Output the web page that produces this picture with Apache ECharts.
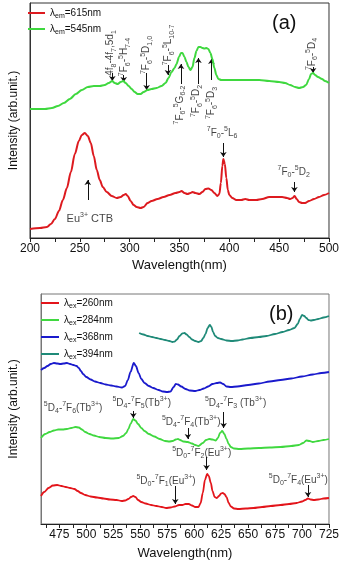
<!DOCTYPE html>
<html>
<head>
<meta charset="utf-8">
<script src="https://cdn.jsdelivr.net/npm/echarts@6/dist/echarts.min.js"></script>
<style>
html, body { margin: 0; padding: 0; background: #fff; }
#chart { width: 342px; height: 562px; }
</style>
</head>
<body>
<div id="chart"></div>
<script>
// ---- panel (a): excitation spectra ----
const aRedNm = [200, 210, 217, 221, 225, 229, 233, 237, 241, 245, 249, 252, 255, 258, 261, 264, 267, 270, 273, 277, 282, 287, 291, 294, 296, 298, 301, 304, 307, 311, 314, 318, 322, 328, 334, 340, 346, 350, 352, 355, 358, 361, 363, 366, 370, 373, 376, 379, 382, 385, 388, 390, 391.5, 393, 394, 395.5, 397, 398.5, 400, 403, 407, 412, 416, 420, 427, 433, 440, 447, 453, 458, 461, 463.5, 465.5, 467.5, 470, 473, 476, 480, 485, 490, 495, 500];
const aRedI = [9, 10, 11, 14, 19, 27, 38, 50, 66, 84, 97, 103, 105, 102, 95, 82, 68, 58, 51, 46, 42, 40, 41, 43, 44, 42, 37, 33, 31, 30, 31, 35, 37, 39, 41, 43, 45, 46, 47, 45, 44, 45, 46, 45, 44, 46, 49, 49.5, 48, 45, 42, 44, 55, 72, 79, 74, 60, 48, 43, 40, 38, 38, 39, 38, 38, 39, 41, 41, 41, 40, 39, 40, 42, 39, 36, 35, 35, 37, 39, 41, 43, 45];

const aGreenNm = [200, 210, 215, 222, 228, 234, 240, 246, 252, 258, 264, 270, 275, 279, 282.5, 285, 288, 291, 293.5, 296, 299, 302, 305, 308, 311, 314, 318, 322, 327, 332, 336, 339, 342, 345, 347, 349.5, 351.5, 353, 355, 357, 359, 361, 363, 365, 367, 369, 371, 373, 375, 377, 379, 381, 383, 385, 387, 389, 392, 400, 410, 420, 430, 440, 450, 456, 461, 466, 470, 474, 477, 480, 482, 484, 486, 489, 493, 496, 500];
const aGreenI = [129, 129, 129, 130, 132, 135, 139, 144, 148, 151, 152, 152, 153, 155, 157, 155, 154, 156, 157, 155, 152, 149, 146, 144, 144, 146, 148, 149, 150, 152, 155, 160, 166, 170, 174, 181, 185, 185, 181, 176, 171, 168, 171, 180, 187, 191, 191, 190, 189.5, 190, 189, 185, 179, 170, 163, 159, 158, 158, 158, 158, 158, 157, 156, 155, 153, 151, 150, 151, 153, 159, 164, 165, 163, 161, 159, 157, 155];

// ---- panel (b): emission spectra ----
const bRedNm = [458, 461, 465, 469, 473, 477, 481, 485, 489, 492, 495, 499, 504, 510, 516, 522, 528, 533, 536, 539, 541.5, 543.5, 545.5, 548, 551, 555, 560, 565, 570, 574, 578, 582, 586, 589, 592, 595, 598, 601, 604, 606, 608, 610, 612, 613.5, 615.5, 617, 619, 621, 623, 625, 626.5, 628, 630, 632, 634, 637, 641, 648, 655, 663, 671, 680, 688, 695, 700, 703, 705.5, 708, 711, 715, 720, 725];
const bRedI = [28, 32, 36, 38.5, 39, 38, 37, 36, 35, 33, 31, 29, 27.5, 26.5, 25.5, 24.5, 24, 23, 23.5, 25, 27, 28, 27, 24, 22, 20.5, 19, 18, 17, 16, 16.5, 17.5, 19, 19, 20, 20, 18.5, 17, 17, 21, 31, 44, 50, 48, 41, 33, 27, 26, 28, 30.5, 31, 30, 27, 21, 17.5, 15.5, 15, 15.5, 16, 17, 18, 19, 20, 21, 22.5, 24, 25.5, 24.5, 24, 24.5, 25.5, 26];

const bGreenNm = [458, 462, 466, 470, 474, 478, 482, 486, 490, 493, 496, 499, 503, 507, 512, 518, 524, 530, 534, 537, 539, 541, 543.5, 545.5, 548, 551, 554, 558, 563, 568, 573, 577, 580, 583, 585, 587, 590, 594, 598, 601, 604, 608, 611, 614, 617, 620, 622, 624, 626, 628, 630, 632, 634, 637, 642, 650, 660, 670, 680, 690, 697, 701, 704, 707, 710, 715, 720, 725];
const bGreenI = [86, 90, 92, 93.5, 94.5, 94.5, 95, 96, 97, 96.5, 94.5, 92, 90, 88.5, 87, 86, 85.5, 86, 88, 91, 95, 100, 105, 103.5, 100, 96, 93, 90, 87.5, 85, 83, 82.5, 83, 84.5, 85, 84, 82.5, 82, 80.5, 79, 78, 81, 84, 85, 84.5, 83.5, 86, 91, 93, 90, 85, 80, 77, 75.5, 75, 75.5, 76, 76.5, 77, 78, 79, 81, 83.5, 83, 82, 83, 84, 85];

const bBlueNm = [458, 461, 464, 467, 470, 473, 476, 479, 482, 485, 488, 491, 493, 495, 497, 500, 504, 508, 513, 518, 523, 528, 533, 536, 538.5, 541, 544, 546, 548.5, 551, 554, 558, 562, 567, 571, 575, 578, 581, 583, 585, 588, 592, 596, 601, 605, 609, 613, 617, 621, 624, 627, 630, 634, 640, 650, 660, 670, 680, 690, 700, 710, 718, 725];
const bBlueI = [154, 156, 158, 160, 161, 160.5, 160, 160.5, 161, 160, 159, 158, 156, 153, 150, 147, 144.5, 142.5, 141, 139.5, 138.5, 137.5, 136.5, 138, 144, 152, 161, 158, 151, 145, 141, 138, 136, 134, 132.5, 132, 132.5, 137, 140, 139.5, 137.5, 135, 133.5, 133, 134, 135.5, 137.5, 140, 141, 141.5, 140, 137.5, 137, 137.5, 139, 140.5, 142.5, 144, 145.5, 147.5, 149.5, 151, 152];

const bTealNm = [549, 553, 557, 561, 565, 569, 573, 577, 580, 582, 584, 586.5, 589, 591, 593, 595.5, 598, 601, 604, 606.5, 608.5, 610.5, 612.5, 614.5, 616, 617.5, 619.5, 622, 625, 630, 635, 640, 645, 652, 660, 667, 675, 682, 688, 693, 696, 698, 700, 702, 704, 706, 708, 711, 715, 720, 725];
const bTealI = [191, 189.5, 188, 187, 186, 185, 184, 183, 182, 182.5, 184.5, 188, 190.5, 191, 189.5, 187, 184.5, 183, 182, 183, 186, 190, 196, 199, 197, 192, 188, 186, 185, 183.5, 183, 183.5, 184.5, 186, 187, 188, 190, 192, 194, 196, 200, 205, 209, 208, 206, 204, 203.5, 204, 205, 206.5, 208];

// tick labels
const aTicks = [200, 250, 300, 350, 400, 450, 500];
const bTicks = [475, 500, 525, 550, 575, 600, 625, 650, 675, 700, 725];
const bMinorTicks = [462.5, 475, 487.5, 500, 512.5, 525, 537.5, 550, 562.5, 575, 587.5, 600, 612.5, 625, 637.5, 650, 662.5, 675, 687.5, 700, 712.5, 725];

// annotations: ^{..} superscript, _{..} subscript
const aNoteNm = [280.7, 294.4, 317, 338.7, 350.5, 367, 382, 483, 392.8, 464.6, 260];
const aNoteI = [185, 181, 183, 193, 133, 137, 135, 184, 105, 66, 19];
const aNoteText = ['4f_{8}-4f_{7},5d_{1}', '^{7}F_{6}-^{5}H_{7-4}', '^{7}F_{6}-^{5}D_{1,0}', '^{7}F_{6}-^{5}L_{10-7}', '^{7}F_{6}-^{5}G_{6-2}', '^{7}F_{6}-^{5}D_{2}', '^{7}F_{6}-^{5}D_{3}', '^{7}F_{6}-^{5}D_{4}', '^{7}F_{0}-^{5}L_{6}', '^{7}F_{0}-^{5}D_{2}', 'Eu^{3+} CTB'];
const aNoteRot = [90, 90, 90, 90, 90, 90, 90, 90, 0, 0, 0];
const aArrowNm = [282.6, 294, 317, 338.4, 351.5, 369, 382, 484, 394, 465.3, 258];
const aArrowFrom = [165, 163, 165, 173, 154, 154, 158, 171, 95, 56, 38];
const aArrowTo = [157, 156, 148, 163, 174, 180, 179, 165, 81, 46, 58];

const bNoteNm = [487.8, 551.4, 638.4, 597.3, 607, 573.9, 696.6];
const bNoteI = [116, 121, 121, 102, 71, 43, 44];
const bNoteText = ['^{5}D_{4}-^{7}F_{6}(Tb^{3+})', '^{5}D_{4}-^{7}F_{5}(Tb^{3+})', '^{5}D_{4}-^{7}F_{3} (Tb^{3+})', '^{5}D_{4}-^{7}F_{4}(Tb^{3+})', '^{5}D_{0}-^{7}F_{2}(Eu^{3+})', '^{5}D_{0}-^{7}F_{1}(Eu^{3+})', '^{5}D_{0}-^{7}F_{4}(Eu^{3+})'];
const bArrowNm = [543.6, 627.3, 594.2, 611.5, 582.5, 705.5];
const bArrowFrom = [113, 112, 96, 67, 38, 39];
const bArrowTo = [106, 96, 85, 54, 20, 27];

const FONT = 'Liberation Sans, Arial, sans-serif';

function fmt(s) {
  return s.replace(/\^\{([^}]*)\}/g, '{p|$1}').replace(/_\{([^}]*)\}/g, '{b|$1}');
}
function zip(xs, ys) {
  return xs.map((x, i) => [x, ys[i]]);
}
function richFor(size, small, lh) {
  return {
    p: { fontSize: small, lineHeight: Math.round(lh * 0.6), verticalAlign: 'top', fontFamily: FONT, color: '#111' },
    b: { fontSize: small, lineHeight: Math.round(lh * 0.6), verticalAlign: 'bottom', fontFamily: FONT, color: '#111' }
  };
}

function curve(name, xs, ys, color, idx, w) {
  return {
    name: name, type: 'line', xAxisIndex: idx, yAxisIndex: idx,
    data: zip(xs, ys), showSymbol: false, smooth: 0.3, smoothMonotone: 'x',
    itemStyle: { color: color }, lineStyle: { color: color, width: w },
    silent: true
  };
}

function notes(nm, inten, text, rot, idx, size, small) {
  return {
    type: 'scatter', xAxisIndex: idx, yAxisIndex: idx, silent: true,
    symbolSize: 1, itemStyle: { color: 'transparent' },
    data: nm.map((x, i) => ({
      value: [x, inten[i]], name: text[i],
      label: { rotate: rot ? rot[i] : 0, fontSize: (text[i].indexOf('CTB') >= 0 ? 11 : size) }
    })),
    label: {
      show: true, position: 'inside', color: '#111', fontFamily: FONT,
      fontSize: size, lineHeight: 14,
      rich: richFor(size, small, 14),
      formatter: p => fmt(p.name)
    }
  };
}

function arrows(nm, from, to, idx) {
  return {
    type: 'lines', coordinateSystem: 'cartesian2d', xAxisIndex: idx, yAxisIndex: idx,
    silent: true, symbol: ['none', 'arrow'], symbolSize: [0, 5],
    lineStyle: { color: '#111', width: 1, opacity: 1, curveness: 0 },
    data: nm.map((x, i) => ({ coords: [[x, from[i]], [x, to[i]]] }))
  };
}

const legendRich = {
  b: { fontSize: 7, lineHeight: 8, verticalAlign: 'bottom', fontFamily: FONT, color: '#111' }
};

let myChart = echarts.init(document.getElementById('chart'));

myChart.setOption({
  animation: false,
  backgroundColor: '#fff',
  textStyle: { fontFamily: FONT },
  title: [
    { text: '(a)', left: 267, top: 8, textStyle: { fontSize: 20, fontWeight: 'normal', color: '#111', fontFamily: FONT } },
    { text: '(b)', left: 264, top: 299, textStyle: { fontSize: 20, fontWeight: 'normal', color: '#111', fontFamily: FONT } }
  ],
  legend: [
    {
      data: ['λ_{em}=615nm', 'λ_{em}=545nm'], orient: 'vertical', left: 28, top: 6, padding: 0,
      itemWidth: 17, itemHeight: 2, itemGap: 2, icon: 'rect',
      textStyle: { fontSize: 10, lineHeight: 14, color: '#111', fontFamily: FONT, rich: legendRich },
      formatter: name => fmt(name)
    },
    {
      data: ['λ_{ex}=260nm', 'λ_{ex}=284nm', 'λ_{ex}=368nm', 'λ_{ex}=394nm'], orient: 'vertical', left: 41, top: 296, padding: 0,
      itemWidth: 18, itemHeight: 2, itemGap: 3, icon: 'rect',
      textStyle: { fontSize: 10, lineHeight: 14, color: '#111', fontFamily: FONT, rich: legendRich },
      formatter: name => fmt(name)
    }
  ],
  grid: [
    { left: 26, top: 3, width: 305, height: 235, show: true, borderColor: '#333', borderWidth: 1 },
    { left: 34, top: 294, width: 298, height: 230, show: true, borderColor: '#777', borderWidth: 1 }
  ],
  xAxis: [
    {
      type: 'value', gridIndex: 0, min: aTicks[0], max: aTicks[aTicks.length - 1], interval: 50,
      name: 'Wavelength(nm)', nameLocation: 'middle', nameGap: 21,
      nameTextStyle: { fontSize: 13, color: '#111', fontFamily: FONT },
      axisLine: { lineStyle: { color: '#222' } },
      axisTick: { length: 4, lineStyle: { color: '#222' } },
      minorTick: { show: true, splitNumber: 2, length: 4, lineStyle: { color: '#222' } },
      axisLabel: { fontSize: 12, color: '#111', margin: 5 },
      splitLine: { show: false }
    },
    {
      type: 'value', gridIndex: 1, min: 458, max: 725,
      name: 'Wavelength(nm)', nameLocation: 'middle', nameGap: 23,
      nameTextStyle: { fontSize: 13, color: '#111', fontFamily: FONT },
      axisLine: { lineStyle: { color: '#222' } },
      axisTick: { length: 4, customValues: bMinorTicks, lineStyle: { color: '#222' } },
      axisLabel: { fontSize: 12, color: '#111', margin: 5, customValues: bTicks },
      splitLine: { show: false }
    }
  ],
  yAxis: [
    {
      type: 'value', gridIndex: 0, min: 0, max: 235,
      name: 'Intensity (arb.unit.)', nameLocation: 'middle', nameGap: 10,
      nameTextStyle: { fontSize: 12, color: '#111', fontFamily: FONT },
      axisLine: { show: true, lineStyle: { color: '#333' } },
      axisTick: { show: false }, axisLabel: { show: false }, splitLine: { show: false }
    },
    {
      type: 'value', gridIndex: 1, min: 0, max: 230,
      name: 'Intensity (arb.unit.)', nameLocation: 'middle', nameGap: 21,
      nameTextStyle: { fontSize: 12, color: '#111', fontFamily: FONT },
      axisLine: { show: true, lineStyle: { color: '#777' } },
      axisTick: { show: false }, axisLabel: { show: false }, splitLine: { show: false }
    }
  ],
  series: [
    curve('λ_{em}=615nm', aRedNm, aRedI, '#dd1a1f', 0, 2),
    curve('λ_{em}=545nm', aGreenNm, aGreenI, '#3fd83f', 0, 2),
    arrows(aArrowNm, aArrowFrom, aArrowTo, 0),
    notes(aNoteNm, aNoteI, aNoteText, aNoteRot, 0, 10, 7),
    curve('λ_{ex}=260nm', bRedNm, bRedI, '#e3151b', 1, 1.8),
    curve('λ_{ex}=284nm', bGreenNm, bGreenI, '#40d840', 1, 1.8),
    curve('λ_{ex}=368nm', bBlueNm, bBlueI, '#1a1acc', 1, 1.8),
    curve('λ_{ex}=394nm', bTealNm, bTealI, '#1f8a78', 1, 1.8),
    arrows(bArrowNm, bArrowFrom, bArrowTo, 1),
    notes(bNoteNm, bNoteI, bNoteText, null, 1, 10, 7)
  ]
});
</script>
</body>
</html>
